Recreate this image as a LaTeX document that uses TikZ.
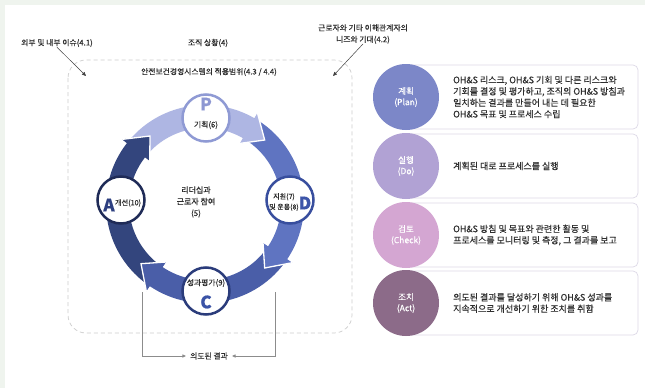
\documentclass[tikz,border=0pt]{standalone}
\usepackage{fontspec}
\setmainfont{Noto Sans CJK KR}[FakeBold=0.35]
\usetikzlibrary{arrows.meta}

\definecolor{bgtint}{HTML}{EFF4EE}
\definecolor{txtgray}{HTML}{2E2E2E}
\definecolor{framegray}{HTML}{CCCCCC}
\definecolor{cardline}{HTML}{DDD9E7}
\definecolor{planband}{HTML}{AEB6E3}
\definecolor{doband}{HTML}{5F74C1}
\definecolor{checkband}{HTML}{4A5EA8}
\definecolor{actband}{HTML}{33457D}
\definecolor{planring}{HTML}{8F9AD4}
\definecolor{doring}{HTML}{384E9E}
\definecolor{checkring}{HTML}{2B3C7B}
\definecolor{actring}{HTML}{1F2B57}
\definecolor{planletter}{HTML}{8D97D2}
\definecolor{doletter}{HTML}{3D55A9}
\definecolor{checkletter}{HTML}{3B53A6}
\definecolor{actletter}{HTML}{2D3F80}
\definecolor{plandot}{HTML}{7C87C8}
\definecolor{dodot}{HTML}{B1A2D4}
\definecolor{checkdot}{HTML}{D4A6D2}
\definecolor{actdot}{HTML}{8C6B89}

\begin{document}
\begin{tikzpicture}[x=1pt, y=-1pt,
	lbl/.style={font=\fontsize{7.8}{11.5}\selectfont, text=txtgray, align=center, inner sep=0pt},
	cardtxt/.style={font=\fontsize{9}{11.4}\selectfont, text=txtgray, align=left, anchor=west, inner sep=0pt},
	stage/.style={circle, fill=white, line width=2.5pt, minimum size=47pt, inner sep=0pt},
	letter/.style={font=\fontsize{17}{17}\selectfont\bfseries, inner sep=0pt},
	card/.style={rectangle, rounded corners=5pt, draw=cardline, fill=white, line width=0.7pt, minimum width=232pt, minimum height=64pt},
	dot/.style={circle, minimum size=66pt, inner sep=0pt, text=white, align=center, font=\fontsize{8.5}{11}\selectfont},
	pointer/.style={-{Triangle[length=4pt, width=3.5pt]}, line width=0.5pt, black!75},
	result/.style={-{Triangle[length=3.5pt, width=3pt]}, line width=0.8pt, black!45}]
	\fill[bgtint] (0,0) rectangle (645,388);
	\fill[white] (5,5) rectangle (645,388);
	\useasboundingbox (0,0) rectangle (645,388);
	
	\draw[framegray, line width=0.7pt, dash pattern=on 4pt off 3pt, rounded corners=18pt] (68,60) rectangle (352,333);
	\node[lbl] (issues) at (57,43) {외부 및 내부 이슈(4.1)};
	\node[lbl] (context) at (208,43) {조직 상황(4)};
	\node[lbl] (needs) at (363,34) {근로자와 기타 이해관계자의\\니즈와 기대(4.2)};
	\node[lbl] (scope) at (209,72) {안전보건경영시스템의 적용범위(4.3 / 4.4)};
	\coordinate (issuesend) at (86,76);
	\coordinate (needsend) at (333,76);
	\draw[pointer] (issues.south) -- (issuesend);
	\draw[pointer] (needs.south) -- (needsend);
	
	\begin{scope}[shift={(205,204)}, yscale=-1]
		\foreach \a/\b/\clr in {129/47/planband, 47/-47/doband, -47/-137/checkband, 223/129/actband} {
			\pgfmathsetmacro\p{\a+13}
			\pgfmathsetmacro\q{\b+13}
			\fill[\clr] (\p:99) arc[start angle=\p, end angle=\q, radius=99] -- (\q:105) -- (\b:87.5) -- (\q:70) -- (\q:76) arc[start angle=\q, end angle=\p, radius=76] -- (\a:87.5) -- cycle;
		}
		\foreach \b/\clr in {47/planband, -47/doband, -137/checkband, 129/actband} {
			\pgfmathsetmacro\q{\b+13}
			\fill[\clr] (\q:105) -- (\b:87.5) -- (\q:70) -- cycle;
			\draw[white, line width=1.3pt] (\q:105) -- (\b:87.5) -- (\q:70);
		}
	\end{scope}
	
	\node[stage, draw=planring] (plan) at (206,118) {};
	\node[stage, draw=doring] (do) at (290,200) {};
	\node[stage, draw=checkring] (check) at (206,291) {};
	\node[stage, draw=actring] (act) at (121,200) {};
	\node[letter, text=planletter] (pletter) at ([yshift=14pt]plan.center) {P};
	\node[lbl] (plantxt) at ([yshift=-7pt]plan.center) {기획(6)};
	\node[letter, text=doletter] (dletter) at ([xshift=15pt, yshift=-3pt]do.center) {D};
	\node[lbl, font=\fontsize{7}{10.5}\selectfont] (dotxt) at ([xshift=-6pt, yshift=-2pt]do.center) {지원(7)\\및 운용(8)};
	\node[lbl] (checktxt) at ([yshift=8pt]check.center) {성과평가(9)};
	\node[letter, text=checkletter] (cletter) at ([yshift=-11pt]check.center) {C};
	\node[letter, text=actletter] (aletter) at ([xshift=-12pt, yshift=-5pt]act.center) {A};
	\node[lbl, font=\fontsize{7.2}{11}\selectfont] (acttxt) at ([xshift=7pt, yshift=-3pt]act.center) {개선(10)};
	\node[lbl, font=\fontsize{8}{11.5}\selectfont] (leader) at (196,202) {리더십과\\근로자 참여\\(5)};
	
	\node[lbl, inner xsep=4pt] (outcome) at (209,356) {의도된 결과};
	\coordinate (cleft) at (142,292);
	\coordinate (cright) at (275,292);
	\draw[result] (cleft) |- (outcome.west);
	\draw[result] (cright) |- (outcome.east);
	
	\foreach \y/\clr/\head/\body [count=\k] in {
		97/plandot/{계획\\(Plan)}/{OH\&S 리스크, OH\&S 기회 및 다른 리스크와\\기회를 결정 및 평가하고, 조직의 OH\&S 방침과\\일치하는 결과를 만들어 내는 데 필요한\\OH\&S 목표 및 프로세스 수립},
		166/dodot/{실행\\(Do)}/{계획된 대로 프로세스를 실행},
		235/checkdot/{검토\\(Check)}/{OH\&S 방침 및 목표와 관련한 활동 및\\프로세스를 모니터링 및 측정, 그 결과를 보고},
		303/actdot/{조치\\(Act)}/{의도된 결과를 달성하기 위해 OH\&S 성과를\\지속적으로 개선하기 위한 조치를 취함}} {
		\node[card] (card\k) at (522,\y) {};
		\node[dot, fill=\clr] (dot\k) at (406,\y) {\head};
		\node[cardtxt] (desc\k) at (453,\y) {\body};
	}
\end{tikzpicture}
\end{document}
